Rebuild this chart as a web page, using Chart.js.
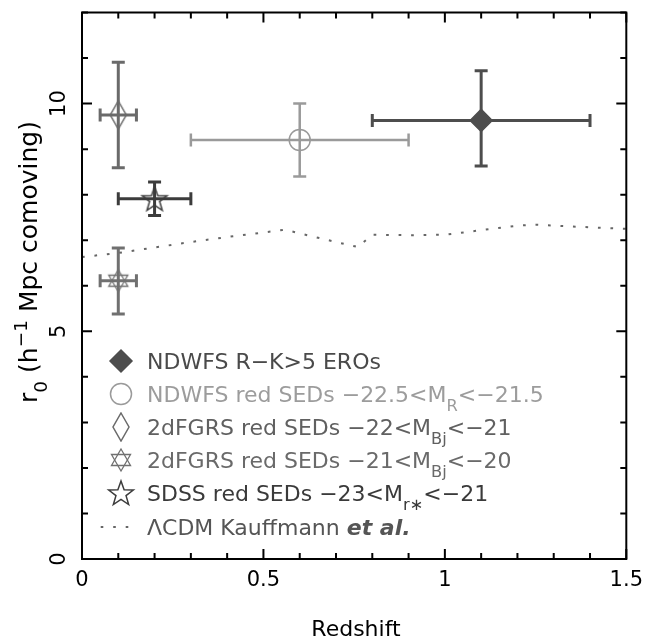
<!DOCTYPE html>
<html>
<head>
<meta charset="utf-8">
<script src="https://cdn.jsdelivr.net/npm/chart.js@4/dist/chart.umd.min.js"></script>
<style>
  html, body { margin: 0; padding: 0; background: #fff; }
  #wrap { width: 652px; height: 640px; }
</style>
</head>
<body>
<div id="wrap"><canvas id="chart" width="652" height="640"></canvas></div>
<script>
const seriesNames = ['NDWFS R-K>5 EROs', 'NDWFS red SEDs', '2dFGRS -22<MBj<-21', '2dFGRS -21<MBj<-20', 'SDSS red SEDs'];
const seriesZ  = [1.10, 0.60, 0.10, 0.10, 0.20];
const seriesR0 = [9.63, 9.20, 9.75, 6.11, 7.91];
const zErrLo   = [0.30, 0.30, 0.05, 0.05, 0.10];
const zErrHi   = [0.30, 0.30, 0.05, 0.05, 0.10];
const r0ErrLo  = [1.00, 0.80, 1.16, 0.73, 0.37];
const r0ErrHi  = [1.09, 0.80, 1.16, 0.72, 0.37];
const seriesColors = ['#4d4d4d', '#9a9a9a', '#6a6a6a', '#707070', '#3c3c3c'];

// LCDM model (Kauffmann et al.)
const modelZ  = [0, 0.1, 0.2, 0.3, 0.4, 0.5, 0.56, 0.6, 0.7, 0.76, 0.8, 0.9, 1.0, 1.1, 1.2, 1.25, 1.35, 1.5];
const modelR0 = [6.63, 6.72, 6.84, 6.96, 7.07, 7.17, 7.23, 7.15, 6.96, 6.85, 7.12, 7.11, 7.12, 7.22, 7.32, 7.34, 7.30, 7.25];

const xTicks = [0, 0.5, 1, 1.5];
const yTicks = [0, 5, 10];
const xMinor = [0, 0.1, 0.2, 0.3, 0.4, 0.5, 0.6, 0.7, 0.8, 0.9, 1, 1.1, 1.2, 1.3, 1.4, 1.5];
const yMinor = [0, 1, 2, 3, 4, 5, 6, 7, 8, 9, 10, 11, 12];

// legend text, with sub/superscript pieces
const legendLabels = [
  [{t: 'NDWFS R\u2212K>5 EROs'}],
  [{t: 'NDWFS red SEDs \u221222.5<M'}, {t: 'R', sub: true}, {t: '<\u221221.5'}],
  [{t: '2dFGRS red SEDs \u221222<M'}, {t: 'Bj', sub: true}, {t: '<\u221221'}],
  [{t: '2dFGRS red SEDs \u221221<M'}, {t: 'Bj', sub: true}, {t: '<\u221220'}],
  [{t: 'SDSS red SEDs \u221223<M'}, {t: 'r\u2217', sub: true}, {t: '<\u221221'}],
  [{t: '\u039bCDM Kauffmann '}, {t: 'et al.', bi: true}]
];
const legendColors = ['#4a4a4a', '#9c9c9c', '#606060', '#6a6a6a', '#3a3a3a', '#555555'];
const yTitle = [{t: 'r'}, {t: '0', sub: true}, {t: ' (h'}, {t: '\u22121', sup: true}, {t: ' Mpc comoving)'}];
const xTitle = [{t: 'Redshift'}];

const FONT = "'DejaVu Sans', sans-serif";
Chart.defaults.font.family = FONT;

function markerCanvas(w, h, draw) {
  const c = document.createElement('canvas');
  c.width = w; c.height = h;
  const g = c.getContext('2d');
  draw(g, w, h);
  return c;
}

const thinDiamond = markerCanvas(20, 30, (g, w, h) => {
  g.strokeStyle = seriesColors[2]; g.lineWidth = 1.5;
  g.beginPath();
  g.moveTo(w / 2, 1); g.lineTo(w - 2, h / 2); g.lineTo(w / 2, h - 1); g.lineTo(2, h / 2);
  g.closePath(); g.stroke();
});

const hexagram = markerCanvas(24, 26, (g, w, h) => {
  g.strokeStyle = seriesColors[3]; g.lineWidth = 1.3;
  const cx = w / 2, cy = h / 2, r = 11;
  [-90, 90].forEach(a0 => {
    g.beginPath();
    for (let k = 0; k < 3; k++) {
      const a = (a0 + k * 120) * Math.PI / 180;
      const px = cx + r * Math.cos(a), py = cy + r * Math.sin(a);
      if (k === 0) g.moveTo(px, py); else g.lineTo(px, py);
    }
    g.closePath(); g.stroke();
  });
});

const star5 = markerCanvas(30, 30, (g, w, h) => {
  g.strokeStyle = seriesColors[4]; g.lineWidth = 1.5;
  const cx = w / 2, cy = h / 2 + 1, ro = 13, ri = 5.3;
  g.beginPath();
  for (let k = 0; k < 10; k++) {
    const a = (-90 + k * 36) * Math.PI / 180;
    const r = k % 2 ? ri : ro;
    const px = cx + r * Math.cos(a), py = cy + r * Math.sin(a);
    if (k === 0) g.moveTo(px, py); else g.lineTo(px, py);
  }
  g.closePath(); g.stroke();
});

const CLEAR = 'rgba(0,0,0,0)';
const pointStyles = ['rectRot', 'circle', thinDiamond, hexagram, star5];
const pointRadii = [11, 10.5, 10, 10, 10];
const pointFill = [seriesColors[0], CLEAR, CLEAR, CLEAR, CLEAR];
const barWidths = [3, 2.5, 3, 3, 3];

function drawRich(ctx, segs, x, y, size) {
  let cx = x;
  segs.forEach(s => {
    const small = s.sub || s.sup;
    const fs = small ? size * 0.74 : size;
    ctx.font = (s.bi ? 'italic bold ' : '') + fs + 'px ' + FONT;
    const dy = s.sub ? size * 0.4 : (s.sup ? -size * 0.42 : 0);
    ctx.fillText(s.t, cx, y + dy);
    cx += ctx.measureText(s.t).width;
  });
  return cx - x;
}
function richWidth(ctx, segs, size) {
  let w = 0;
  segs.forEach(s => {
    const fs = (s.sub || s.sup) ? size * 0.74 : size;
    ctx.font = (s.bi ? 'italic bold ' : '') + fs + 'px ' + FONT;
    w += ctx.measureText(s.t).width;
  });
  return w;
}

const errorBars = {
  id: 'errorBars',
  beforeDatasetsDraw(chart) {
    const {ctx, scales: {x, y}} = chart;
    const cap = 6.5;
    ctx.save();
    seriesZ.forEach((z, i) => {
      const px = x.getPixelForValue(z), py = y.getPixelForValue(seriesR0[i]);
      const x0 = x.getPixelForValue(z - zErrLo[i]), x1 = x.getPixelForValue(z + zErrHi[i]);
      const y0 = y.getPixelForValue(seriesR0[i] - r0ErrLo[i]), y1 = y.getPixelForValue(seriesR0[i] + r0ErrHi[i]);
      ctx.strokeStyle = seriesColors[i];
      ctx.lineWidth = barWidths[i];
      ctx.beginPath();
      ctx.moveTo(x0, py); ctx.lineTo(x1, py);
      ctx.moveTo(px, y0); ctx.lineTo(px, y1);
      ctx.moveTo(x0, py - cap); ctx.lineTo(x0, py + cap);
      ctx.moveTo(x1, py - cap); ctx.lineTo(x1, py + cap);
      ctx.moveTo(px - cap, y0); ctx.lineTo(px + cap, y0);
      ctx.moveTo(px - cap, y1); ctx.lineTo(px + cap, y1);
      ctx.stroke();
    });
    ctx.restore();
  }
};

const frame = {
  id: 'frame',
  afterDatasetsDraw(chart) {
    const {ctx, chartArea: a, scales: {x, y}} = chart;
    ctx.save();
    ctx.strokeStyle = '#000';
    ctx.lineWidth = 2;
    ctx.strokeRect(a.left, a.top, a.right - a.left, a.bottom - a.top);
    ctx.beginPath();
    xMinor.forEach(v => {
      const px = x.getPixelForValue(v);
      const len = xTicks.includes(v) ? 10 : 6;
      ctx.moveTo(px, a.bottom); ctx.lineTo(px, a.bottom - len);
      ctx.moveTo(px, a.top); ctx.lineTo(px, a.top + len);
    });
    yMinor.forEach(v => {
      const py = y.getPixelForValue(v);
      const len = yTicks.includes(v) ? 10 : 6;
      ctx.moveTo(a.left, py); ctx.lineTo(a.left + len, py);
      ctx.moveTo(a.right, py); ctx.lineTo(a.right - len, py);
    });
    ctx.stroke();

    // rotated y tick labels, placed from the scale's own ticks
    ctx.fillStyle = '#000';
    ctx.font = '21px ' + FONT;
    ctx.textAlign = 'center';
    ctx.textBaseline = 'middle';
    y.ticks.forEach(t => {
      ctx.save();
      ctx.translate(a.left - 23, y.getPixelForValue(t.value));
      ctx.rotate(-Math.PI / 2);
      ctx.fillText(String(t.value), 0, 1);
      ctx.restore();
    });
    ctx.restore();
  }
};

const labels = {
  id: 'labels',
  afterDraw(chart) {
    const {ctx} = chart;
    ctx.save();
    ctx.textBaseline = 'alphabetic';
    ctx.textAlign = 'left';
    // axis titles
    ctx.fillStyle = '#000';
    const xw = richWidth(ctx, xTitle, 22);
    drawRich(ctx, xTitle, 356 - xw / 2, 636, 22);
    ctx.save();
    ctx.translate(28, 262);
    ctx.rotate(-Math.PI / 2);
    const yw = richWidth(ctx, yTitle, 25);
    drawRich(ctx, yTitle, -yw / 2, 9, 25);
    ctx.restore();

    // legend
    const rowY = [361, 394, 427, 460, 493, 527];
    pointStyles.forEach((ps, i) => {
      ctx.fillStyle = pointFill[i];
      ctx.strokeStyle = seriesColors[i];
      ctx.lineWidth = 1.5;
      Chart.helpers.drawPoint(ctx, {pointStyle: ps, radius: pointRadii[i], borderWidth: 1.5, rotation: 0}, 121, rowY[i]);
    });
    legendLabels.forEach((segs, i) => {
      ctx.fillStyle = legendColors[i];
      drawRich(ctx, segs, 147, rowY[i] + 8, 22);
    });
    // dotted sample for the model line
    ctx.strokeStyle = '#666';
    ctx.lineWidth = 2;
    ctx.beginPath();
    [102, 114.5, 127].forEach(px => { ctx.moveTo(px - 1.3, 527); ctx.lineTo(px + 1.3, 527); });
    ctx.stroke();
    ctx.restore();
  }
};

const datasets = seriesNames.map((name, i) => ({
  label: name,
  data: [{x: seriesZ[i], y: seriesR0[i]}],
  pointStyle: pointStyles[i],
  pointRadius: pointRadii[i],
  pointBackgroundColor: pointFill[i],
  pointBorderColor: seriesColors[i],
  pointBorderWidth: 1.5
}));
datasets.push({
  type: 'line',
  label: 'LCDM Kauffmann et al.',
  data: modelZ.map((z, i) => ({x: z, y: modelR0[i]})),
  borderColor: '#666',
  borderWidth: 2,
  borderDash: [2.7, 9.8],
  pointRadius: 0,
  fill: false,
  tension: 0
});

new Chart(document.getElementById('chart'), {
  type: 'scatter',
  data: {datasets},
  options: {
    responsive: false,
    animation: false,
    layout: {padding: {top: 6, right: 18, left: 0, bottom: 0}},
    plugins: {legend: {display: false}, tooltip: {enabled: false}},
    scales: {
      x: {
        type: 'linear', min: 0, max: 1.5,
        grid: {display: false, drawTicks: false},
        border: {display: false},
        afterBuildTicks: s => { s.ticks = xTicks.map(v => ({value: v})); },
        afterFit: s => { s.height = 81; },
        ticks: {color: '#000', padding: 9, maxRotation: 0, font: {size: 21}, callback: v => String(v)}
      },
      y: {
        type: 'linear', min: 0, max: 12,
        grid: {display: false, drawTicks: false},
        border: {display: false},
        afterBuildTicks: s => { s.ticks = yTicks.map(v => ({value: v})); },
        afterFit: s => { s.width = 82; },
        ticks: {display: false}
      }
    }
  },
  plugins: [errorBars, frame, labels]
});
</script>
</body>
</html>
